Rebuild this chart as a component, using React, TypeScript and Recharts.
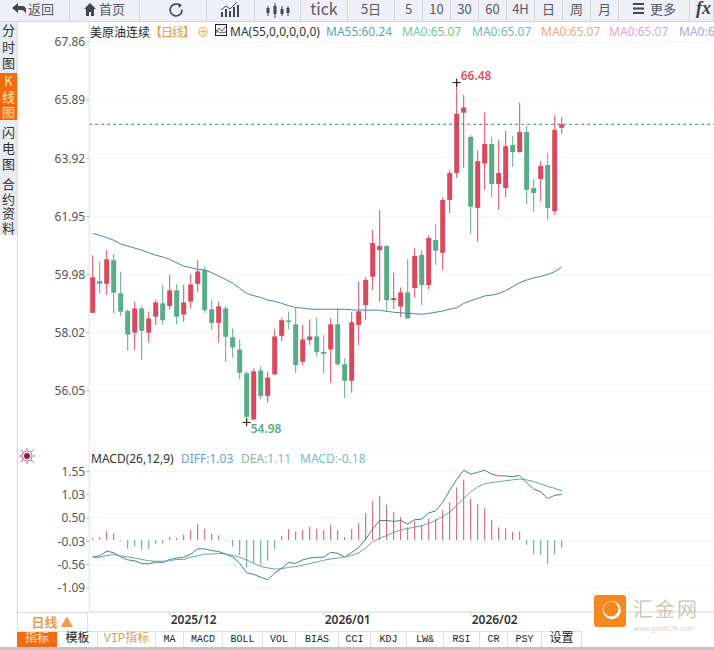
import React from "react";
import { ComposedChart, Bar, Line, XAxis, YAxis, CartesianGrid, ReferenceLine, ReferenceDot, Cell } from "recharts";

const highs = [60.64,60.42,60.81,60.68,60.08,58.81,59.07,58.92,58.73,59.14,59.63,59.97,59.66,59.63,60.00,60.47,60.25,59.14,59.07,58.92,58.16,57.79,56.70,56.81,56.87,56.70,58.14,58.53,58.73,58.87,58.28,58.47,58.53,57.94,58.50,58.84,57.15,58.71,59.74,59.89,61.49,62.17,60.98,60.05,59.55,60.51,60.87,60.81,61.32,61.69,62.60,63.52,66.48,66.06,64.71,64.18,65.47,64.63,64.54,64.85,64.67,65.80,65.02,63.22,63.83,64.09,65.38,65.30];
const lows = [58.69,59.35,59.29,58.67,58.58,57.41,57.43,57.11,57.68,58.28,58.28,58.81,58.30,58.39,58.84,59.40,58.69,58.11,57.68,57.03,57.17,56.44,54.98,55.06,55.76,55.65,56.58,57.73,58.14,56.66,56.92,57.60,57.20,56.64,56.33,56.89,55.80,55.99,57.60,58.45,59.46,59.07,58.73,58.81,58.54,58.49,59.21,58.95,59.48,60.31,60.14,62.06,63.25,63.60,61.36,61.10,62.85,62.61,62.17,62.60,63.63,64.11,62.37,62.10,62.47,61.83,62.00,64.74];
const opens = [58.69,59.76,59.67,60.47,59.35,58.75,58.02,58.84,58.02,58.56,59.01,58.92,59.45,58.63,59.07,59.67,60.14,58.81,58.35,58.84,57.86,57.45,56.64,55.08,56.74,55.88,56.61,57.91,58.43,58.30,57.03,57.77,57.89,57.37,57.45,58.30,56.95,56.39,58.28,58.95,59.91,60.81,60.95,59.12,58.90,59.38,59.53,60.65,59.63,61.15,60.72,62.51,63.42,65.46,64.64,62.24,63.74,64.40,63.05,62.91,64.37,64.13,64.81,62.91,63.22,63.69,62.13,64.95];
const closes = [59.89,59.67,60.50,59.37,58.73,57.95,58.84,58.08,58.50,59.04,58.44,59.45,58.56,59.04,59.65,60.09,58.78,58.35,58.91,57.88,57.52,56.66,55.17,56.71,55.88,56.50,57.89,58.44,58.39,56.92,57.79,57.89,57.37,57.30,58.30,56.95,56.39,58.37,58.74,59.80,61.05,60.95,59.12,59.19,59.38,58.50,60.61,59.63,61.22,60.79,62.51,63.42,65.42,65.64,62.28,63.82,64.40,63.05,63.42,64.33,64.13,64.81,62.85,62.74,63.66,62.24,64.88,65.07];
const ma55 = [61.38,61.31,61.23,61.15,61.02,60.95,60.88,60.81,60.72,60.64,60.58,60.50,60.38,60.27,60.22,60.16,60.14,60.05,59.93,59.82,59.69,59.52,59.35,59.27,59.21,59.12,59.08,59.01,58.93,58.87,58.85,58.82,58.81,58.81,58.81,58.81,58.81,58.79,58.78,58.78,58.78,58.78,58.74,58.71,58.69,58.67,58.66,58.64,58.67,58.71,58.75,58.81,58.86,59.01,59.10,59.18,59.26,59.29,59.34,59.44,59.57,59.71,59.80,59.87,59.92,59.99,60.08,60.24];
const diff = [-0.38,-0.36,-0.25,-0.29,-0.38,-0.45,-0.47,-0.53,-0.54,-0.50,-0.51,-0.44,-0.41,-0.39,-0.32,-0.20,-0.20,-0.24,-0.26,-0.32,-0.38,-0.53,-0.74,-0.78,-0.84,-0.90,-0.75,-0.64,-0.51,-0.53,-0.45,-0.41,-0.39,-0.39,-0.28,-0.30,-0.39,-0.28,-0.17,0.02,0.25,0.44,0.44,0.42,0.44,0.36,0.46,0.47,0.61,0.66,0.85,1.12,1.37,1.58,1.49,1.53,1.58,1.49,1.45,1.45,1.43,1.46,1.30,1.15,1.09,0.94,1.01,1.03];
const dea = [-0.39,-0.39,-0.35,-0.33,-0.36,-0.38,-0.41,-0.44,-0.47,-0.48,-0.48,-0.47,-0.44,-0.44,-0.39,-0.36,-0.32,-0.32,-0.30,-0.32,-0.35,-0.39,-0.45,-0.53,-0.60,-0.63,-0.66,-0.65,-0.62,-0.60,-0.57,-0.53,-0.50,-0.46,-0.43,-0.41,-0.38,-0.35,-0.29,-0.18,-0.04,0.04,0.10,0.17,0.23,0.26,0.29,0.32,0.38,0.44,0.53,0.63,0.78,0.94,1.09,1.20,1.27,1.30,1.32,1.34,1.36,1.38,1.36,1.32,1.27,1.21,1.17,1.11];
const macd = [0.04,0.06,0.21,0.15,-0.02,-0.20,-0.15,-0.23,-0.21,-0.09,-0.08,0.06,0.05,0.12,0.23,0.36,0.25,0.14,0.11,-0.02,-0.15,-0.34,-0.62,-0.54,-0.58,-0.47,-0.21,0.09,0.25,0.19,0.23,0.30,0.25,0.23,0.34,0.23,0.07,0.25,0.38,0.61,0.88,1.00,0.79,0.63,0.52,0.29,0.43,0.34,0.48,0.48,0.68,0.85,1.19,1.36,0.93,0.81,0.72,0.45,0.29,0.26,0.18,0.20,-0.11,-0.32,-0.34,-0.54,-0.32,-0.18];
const blankRows = 22;
const priceTicks = [56.05, 58.02, 59.98, 61.95, 63.92, 65.89, 67.86];
const macdTicks = [-1.09, -0.56, -0.03, 0.5, 1.03, 1.55];
const monthIndex = [11, 33, 54];
const monthLabels = ["2025/12", "2026/01", "2026/02"];
const lastPrice = 65.07;
const highMark = { index: 52, value: 66.48 };
const lowMark = { index: 22, value: 54.98 };

const UP = "#d84a5c";
const DOWN = "#5aab87";
const FONT = '"Noto Sans","Noto Sans CJK SC",sans-serif';
const CJK = '"Noto Sans CJK SC","Noto Sans",sans-serif';
const LEFT = 89.2;

const rows = [
  ...highs.map((h, i) => ({
    i,
    range: [lows[i], h],
    open: opens[i],
    close: closes[i],
    high: h,
    low: lows[i],
    ma55: ma55[i],
    diff: diff[i],
    dea: dea[i],
    macd: macd[i],
  })),
  ...Array.from({ length: blankRows }, (_, k) => ({ i: highs.length + k })),
] as any[];

function Candle(props: any) {
  const { x, y, width, height, payload } = props;
  if (payload == null || payload.high == null || !height) return null;
  const perUnit = height / (payload.high - payload.low);
  const color = payload.close >= payload.open ? UP : DOWN;
  const top = y + (payload.high - Math.max(payload.open, payload.close)) * perUnit;
  const bottom = y + (payload.high - Math.min(payload.open, payload.close)) * perUnit;
  const cx = x + width / 2;
  return (
    <g>
      <line x1={cx} x2={cx} y1={y} y2={y + height} stroke={color} strokeWidth={1} />
      <rect x={x} y={top} width={width} height={Math.max(bottom - top, 1.5)} fill={color} />
    </g>
  );
}

function Mark({ cx, cy, label, color, dx, dy }: any) {
  return (
    <g>
      <path d={`M${cx - 4} ${cy}H${cx + 4}M${cx} ${cy - 4}V${cy + 4}`} stroke="#111" strokeWidth={1} />
      <text x={cx + dx} y={cy + dy} fill={color} fontSize={12} fontWeight={600} fontFamily={FONT}>{label}</text>
    </g>
  );
}

function MonthTick({ x, y, payload }: any) {
  const pos = monthIndex.indexOf(Number(payload.value));
  return (
    <g>
      <line x1={x} x2={x} y1={y - 8} y2={y - 4} stroke="#ccc" />
      <text x={x + 1} y={y + 4} fontSize={12} fontWeight={600} fill="#333" fontFamily={FONT}>{monthLabels[pos]}</text>
    </g>
  );
}

const toolButtons: [string, number, number][] = [
  ["", 0, 70], ["", 70, 70], ["", 140, 67], ["", 207, 48], ["", 255, 46], ["tick", 301, 47], ["5日", 348, 47],
  ["5", 395, 28], ["10", 423, 28], ["30", 451, 28], ["60", 479, 28], ["4H", 507, 28], ["日", 535, 28], ["周", 563, 28], ["月", 591, 28], ["", 619, 71], ["", 690, 24],
];
const sideTabs: [string[], number, number, boolean][] = [
  [["分", "时", "图"], 22, 50, false],
  [["K", "线", "图"], 73, 47, true],
  [["闪", "电", "图"], 124, 48, false],
  [["合", "约", "资", "料"], 177, 58, false],
];
const bottomTabs: [string, number, number][] = [
  ["指标", 17, 41], ["模板", 58, 40], ["VIP指标", 98, 58], ["MA", 156, 28], ["MACD", 184, 39], ["BOLL", 223, 40], ["VOL", 263, 33], ["BIAS", 296, 43],
  ["CCI", 339, 32], ["KDJ", 371, 36], ["LW&", 407, 37], ["RSI", 444, 36], ["CR", 480, 28], ["PSY", 508, 34], ["设置", 542, 40],
];
const maLegend: [string, number, string][] = [
  ["MA55:60.24", 326, "#5c9fc4"], ["MA0:65.07", 402, "#72c39c"], ["MA0:65.07", 472, "#6db7cc"], ["MA0:65.07", 541, "#e8a97c"], ["MA0:65.07", 609, "#d8a6dc"], ["MA0:65.07", 679, "#a9a9da"],
];
const macdLegend: [string, number, string][] = [
  ["DIFF:1.03", 181, "#6a9ec9"], ["DEA:1.11", 241, "#7fbb9b"], ["MACD:-0.18", 300, "#79b9cf"],
];

const abs = (x: number, y: number, extra: any = {}): React.CSSProperties => ({ position: "absolute", left: x, top: y, whiteSpace: "nowrap", ...extra });
const iconStroke = "#445";

export default function App() {
  React.useEffect(() => { document.body.style.margin = "0"; }, []);
  return (
    <div style={{ position: "fixed", left: 0, top: 0, width: 714, height: 650, overflow: "hidden", background: "#fff", fontFamily: FONT }}>
      {/* price panel */}
      <div style={abs(0, 22)}>
        <ComposedChart width={719.2} height={425} data={rows} margin={{ top: 0, right: 0, bottom: 0, left: 0 }} barCategoryGap={0}>
          <CartesianGrid vertical={false} stroke="#f5f5f5" />
          <XAxis dataKey="i" type="category" hide />
          <YAxis width={LEFT} domain={[54.15, 68.53]} ticks={priceTicks} allowDataOverflow tickSize={3} tickMargin={1} tickFormatter={(v: number) => v.toFixed(2)} tick={{ fontSize: 12, fill: "#555", fontFamily: FONT }} axisLine={{ stroke: "#dfe2e8" }} tickLine={{ stroke: "#bbb" }} />
          <Bar dataKey="range" barSize={5} shape={Candle} isAnimationActive={false} />
          <Line dataKey="ma55" stroke="#3f86ad" strokeWidth={1} dot={false} isAnimationActive={false} />
          <ReferenceLine y={lastPrice} stroke="#2f7f9f" strokeDasharray="3 3" />
          <ReferenceDot x={highMark.index} y={highMark.value} shape={(p: any) => <Mark {...p} label="66.48" color="#d6555f" dx={4} dy={-3} />} />
          <ReferenceDot x={lowMark.index} y={lowMark.value} shape={(p: any) => <Mark {...p} label="54.98" color="#5aab87" dx={4} dy={11} />} />
        </ComposedChart>
      </div>
      {/* macd panel */}
      <div style={abs(0, 448)}>
        <ComposedChart width={719.2} height={182} data={rows} margin={{ top: 0, right: 0, bottom: 0, left: 0 }} barCategoryGap={0}>
          <CartesianGrid vertical={false} stroke="#f5f5f5" />
          <XAxis dataKey="i" type="category" height={18} ticks={monthIndex} interval={0} tick={MonthTick} tickLine={false} axisLine={{ stroke: "#dcdcdc" }} />
          <YAxis width={LEFT} domain={[-1.629, 2.081]} ticks={macdTicks} allowDataOverflow tickSize={3} tickMargin={1} tickFormatter={(v: number) => v.toFixed(2)} tick={{ fontSize: 12, fill: "#555", fontFamily: FONT }} axisLine={{ stroke: "#dfe2e8" }} tickLine={{ stroke: "#bbb" }} />
          <Bar dataKey="macd" barSize={1} isAnimationActive={false}>
            {rows.map((r) => <Cell key={r.i} fill={(r.macd ?? 0) >= 0 ? "#c85a68" : "#5aa586"} />)}
          </Bar>
          <Line dataKey="diff" stroke="#3f7f9f" strokeWidth={1} dot={false} isAnimationActive={false} />
          <Line dataKey="dea" stroke="#62a995" strokeWidth={1} dot={false} isAnimationActive={false} />
        </ComposedChart>
      </div>

      {/* top toolbar */}
      <div style={abs(0, 0, { width: 714, height: 22, background: "#eef0f6", borderBottom: "1px solid #d5d7de", boxSizing: "border-box" })} />
      {toolButtons.map(([t, x, w]) => (
        <div key={x} style={abs(x, 0, { width: w, height: 21, borderRight: "1px solid #d5d7de", boxSizing: "border-box", textAlign: "center", lineHeight: "17px", fontSize: t === "tick" ? 16 : 13, color: "#555a66", fontFamily: CJK })}>{t}</div>
      ))}
      <div style={abs(28, 0, { fontSize: 13, lineHeight: "17px", color: "#555a66", fontFamily: CJK })}>返回</div>
      <div style={abs(99, 0, { fontSize: 13, lineHeight: "17px", color: "#555a66", fontFamily: CJK })}>首页</div>
      <div style={abs(650, 0, { fontSize: 13, lineHeight: "17px", color: "#555a66", fontFamily: CJK })}>更多</div>
      <div style={abs(696, -3, { fontSize: 18, fontStyle: "italic", fontWeight: 700, lineHeight: "22px", color: "#3a3f4a", fontFamily: '"Liberation Serif",serif' })}>fx</div>
      <svg style={abs(0, 0)} width={714} height={22}>
        <path d="M12 8l6-5v3h4a4 4 0 0 1 4 4v5a5 5 0 0 0-5-5h-3v3z" fill={iconStroke} />
        <path d="M84 9l6-6 6 6h-2v7h-3v-4h-2v4h-3v-7z" fill={iconStroke} />
        <path d="M633 4h11M633 8.5h11M633 13h11" stroke={iconStroke} strokeWidth={2} />
        <path d="M180 5.5a6 6 0 1 0 2 4" fill="none" stroke={iconStroke} strokeWidth={1.6} />
        <path d="M178 3l4 2-3 3z" fill={iconStroke} />
        <path d="M222 17v-5M226 17v-8M230 17v-6M234 17v-10M238 17v-12" stroke={iconStroke} strokeWidth={2} />
        <path d="M221 10l5-4 4 3 7-7" stroke={iconStroke} fill="none" />
        <path d="M268 6v10M275 3v15M282 6v10M288 6v10" stroke={iconStroke} />
        <path d="M268 8v5M275 6v8M282 9v5M288 8v5" stroke={iconStroke} strokeWidth={3} />
      </svg>

      {/* left sidebar */}
      <div style={abs(0, 22, { width: 17, height: 213, background: "#e9ebf2" })} />
      <div style={abs(17, 22, { width: 1, height: 608, background: "#d5d9e4" })} />
      {sideTabs.map(([chars, y, h, active]) => (
        <div key={y} style={abs(0, y, { width: 17, height: h, background: active ? "#f26b12" : "transparent", color: active ? "#ffe9a8" : "#333", fontSize: 13, lineHeight: `${h / chars.length}px`, textAlign: "center", fontFamily: FONT })}>
          {chars.map((c) => <div key={c} style={{ height: h / chars.length, overflow: "hidden", fontFamily: '"Noto Sans CJK SC"' }}>{c}</div>)}
        </div>
      ))}

      {/* legend rows */}
      <div style={abs(90, 23, { fontSize: 12, lineHeight: "17px", color: "#222", fontFamily: CJK })}>美原油连续</div>
      <div style={abs(150, 23, { fontSize: 12, lineHeight: "17px", color: "#e89a3c", fontFamily: CJK, width: 48, letterSpacing: -1 })}>【日线】</div>
      <div style={abs(197, 24, { fontSize: 12, lineHeight: "17px", color: "#e8a050" })}>⊕</div>
      <svg style={abs(215, 24)} width={14} height={14}>
        <rect x={0.5} y={0.5} width={11} height={11} fill="#fff" stroke="#223" />
        <path d="M1 9l3-5 3 3 4-5" stroke="#c33" fill="none" />
        <path d="M1 6l4 3 6-1" stroke="#36a" fill="none" />
      </svg>
      <div style={abs(230, 23, { fontSize: 12, lineHeight: "17px", color: "#333" })}>MA(55,0,0,0,0,0)</div>
      {maLegend.map(([t, x, c]) => <div key={x} style={abs(x, 23, { fontSize: 12, lineHeight: "17px", color: c })}>{t}</div>)}
      <svg style={abs(19, 448)} width={16} height={16}>
        <circle cx={8} cy={8} r={3} fill="#a01840" />
        <circle cx={8} cy={8} r={5} fill="none" stroke="#a01840" strokeWidth={0.7} />
        <path d="M8 0v2M8 14v2M0 8h2M14 8h2M2 2l2 2M14 2l-2 2M2 14l2-2M14 14l-2-2" stroke="#d05070" />
      </svg>
      <div style={abs(91, 450, { fontSize: 12, lineHeight: "17px", color: "#333" })}>MACD(26,12,9)</div>
      {macdLegend.map(([t, x, c]) => <div key={x} style={abs(x, 450, { fontSize: 12, lineHeight: "17px", color: c })}>{t}</div>)}

      {/* period box */}
      <div style={abs(18, 612, { width: 70, height: 18, background: "#fff", borderTop: "1px solid #dcdcdc", borderRight: "1px solid #dcdcdc", boxSizing: "border-box", textAlign: "center", fontSize: 13, lineHeight: "17px", fontWeight: 700, color: "#e8a050", fontFamily: CJK, overflow: "hidden" })}>日线 ▲</div>

      {/* bottom tabs */}
      {bottomTabs.map(([t, x, w], k) => (
        <div key={t} style={abs(x, 631, { width: w, height: 16, boxSizing: "border-box", borderTop: "1px solid #e0e0e0", borderRight: "1px solid #e0e0e0", background: k === 0 ? "#f26b12" : "#fff", color: k === 0 ? "#ffe9c8" : k === 2 ? "#d8a050" : "#222", fontSize: k < 3 || k === 14 ? 12 : 10, lineHeight: "15px", textAlign: "center", fontFamily: '"Liberation Mono","Noto Sans CJK SC",monospace' })}>{t}</div>
      ))}
      <div style={abs(0, 647, { width: 714, height: 3, background: "#c4c4c4" })} />

      {/* logo */}
      <svg style={abs(594, 595)} width={33} height={33}>
        <rect width={32} height={32} rx={3} fill="#f7881f" />
        <path d="M9 17a9 9 0 1 0 5-10a8 8 0 0 0 -5 10z" fill="#fff" />
        <circle cx={17} cy={14} r={7.5} fill="#f7881f" />
      </svg>
      <div style={abs(633, 594, { fontSize: 20, lineHeight: "29px", color: "#cfc6bd", letterSpacing: 2, fontFamily: CJK })}>汇金网</div>
      <div style={abs(633, 624, { fontSize: 7, lineHeight: "9px", color: "#d8d4cf" })}>www.gold678.com</div>
    </div>
  );
}
